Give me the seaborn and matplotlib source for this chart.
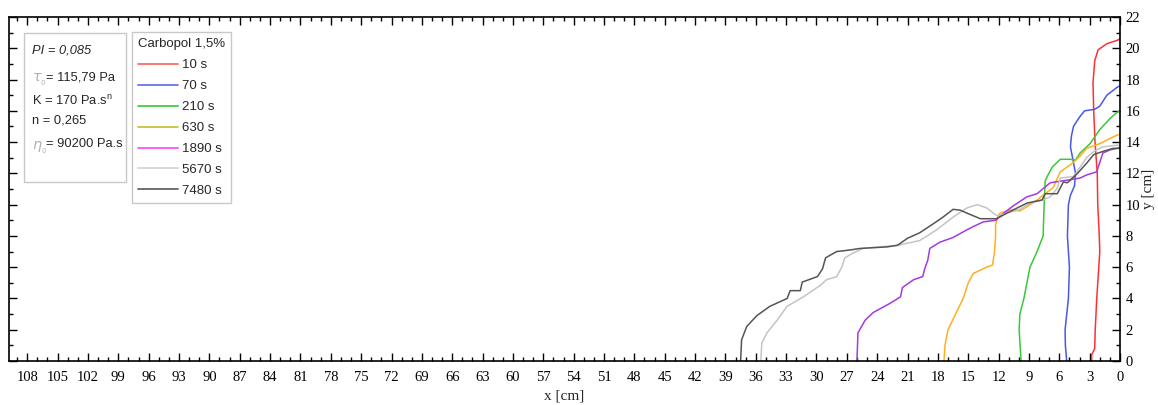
import numpy as np
import pandas as pd
import matplotlib
matplotlib.use("Agg")
import matplotlib.pyplot as plt
from matplotlib.lines import Line2D
from matplotlib.patches import Rectangle
from matplotlib.ticker import MultipleLocator
import seaborn as sns

# ---------------- data (x [cm], y [cm]) ----------------
labels = ["10 s", "70 s", "210 s", "630 s", "1890 s", "5670 s", "7480 s"]

x_10 = [2.8, 2.8, 2.5, 2.45, 2.3, 2.1, 2.0, 2.05, 2.2, 2.25, 2.47, 2.6, 2.67, 2.5, 2.17, 1.28, 0.8, 0.3, 0.0]
y_10 = [0, 0.4, 0.8, 2.0, 4.0, 6.0, 7.0, 8.0, 10.0, 12.0, 14.0, 16.0, 17.8, 19.2, 19.9, 20.3, 20.4, 20.5, 20.6]

x_70 = [5.27, 5.4, 5.43, 5.1, 5.0, 5.2, 5.1, 4.9, 4.5, 4.4, 4.6, 4.9, 4.8, 4.6, 4.0, 3.5, 2.5, 2.0, 1.3, 0.3, 0.0]
y_70 = [0, 1.0, 2.0, 4.0, 6.0, 8.0, 10.0, 10.6, 11.2, 12.0, 12.7, 13.7, 14.4, 15.0, 15.6, 16.0, 16.1, 16.3, 17.0, 17.5, 17.6]

x_210 = [9.78, 9.97, 9.9, 9.5, 8.9, 8.2, 7.6, 7.5, 7.4, 7.2, 6.7, 5.9, 4.9, 4.4, 3.95, 2.96, 2.0, 1.0, 0.3, 0.0]
y_210 = [0, 2.0, 3.0, 4.0, 6.0, 7.0, 8.0, 10.0, 11.5, 11.8, 12.4, 12.9, 12.9, 12.85, 13.3, 13.9, 14.8, 15.5, 15.9, 16.0]

x_630 = [17.4, 17.3, 17.0, 16.3, 15.5, 15.0, 14.5, 13.2, 12.6, 12.4, 12.3, 12.3, 12.05, 11.86, 10.87, 9.88,
         9.2, 8.2, 7.4, 6.6, 5.9, 4.6, 3.95, 3.3, 2.0, 0.3, 0.0]
y_630 = [0, 1.0, 2.0, 2.94, 4.0, 5.0, 5.6, 6.0, 6.14, 7.0, 8.0, 8.7, 9.3, 9.45, 9.66, 9.6,
         9.87, 10.3, 10.7, 11.1, 12.1, 12.7, 13.1, 13.6, 13.9, 14.45, 14.5]

x_1890 = [26.0, 25.9, 25.2, 24.4, 22.7, 21.7, 21.5, 20.4, 19.5, 19.3, 19.0, 18.8, 17.8, 16.5, 15.1, 14.5,
          13.5, 12.3, 11.5, 10.6, 9.2, 8.2, 6.9, 5.9, 4.9, 3.95, 3.3, 2.3, 2.0, 1.7, 1.0, 0.3, 0.0]
y_1890 = [0, 1.8, 2.6, 3.1, 3.7, 4.1, 4.7, 5.2, 5.4, 5.9, 6.45, 7.2, 7.6, 7.9, 8.4, 8.6,
          8.9, 9.0, 9.45, 9.9, 10.5, 10.7, 11.4, 11.5, 11.6, 11.7, 11.9, 12.1, 12.7, 13.3, 13.5, 13.6, 13.65]

x_5670 = [35.5, 35.4, 34.9, 33.9, 32.9, 31.3, 29.6, 29.0, 28.0, 27.5, 27.2, 26.4, 25.4, 22.0, 19.8, 18.1,
          16.5, 15.1, 14.1, 13.2, 12.2, 11.5, 9.9, 8.9, 7.6, 6.9, 6.2, 5.9, 4.6, 3.95, 3.3, 2.6, 1.7, 0.3, 0.0]
y_5670 = [0, 1.15, 1.8, 2.6, 3.5, 4.1, 4.85, 5.2, 5.4, 6.0, 6.6, 6.9, 7.2, 7.4, 7.7, 8.4,
          9.2, 9.8, 10.0, 9.8, 9.3, 9.4, 9.7, 10.1, 10.3, 10.5, 11.05, 11.7, 11.8, 12.4, 13.0, 13.4, 13.7, 13.8, 13.8]

x_7480 = [37.5, 37.4, 36.9, 35.9, 34.6, 32.9, 32.6, 31.6, 31.4, 29.9, 29.4, 29.1, 28.0, 26.7, 25.7, 23.0,
          22.0, 21.0, 19.8, 18.4, 17.5, 16.5, 15.8, 15.1, 13.8, 12.2, 11.2, 9.2, 7.7, 7.4, 6.2, 5.6, 5.2,
          4.2, 3.3, 2.6, 1.7, 0.7, 0.0]
y_7480 = [0, 1.35, 2.2, 2.9, 3.5, 4.0, 4.5, 4.5, 5.05, 5.4, 5.9, 6.6, 7.0, 7.1, 7.2, 7.3,
          7.4, 7.85, 8.2, 8.8, 9.2, 9.7, 9.65, 9.45, 9.1, 9.1, 9.45, 10.1, 10.3, 10.7, 10.7, 11.45, 11.4,
          12.0, 12.65, 13.2, 13.4, 13.6, 13.6]

xs = [x_10, x_70, x_210, x_630, x_1890, x_5670, x_7480]
ys = [y_10, y_70, y_210, y_630, y_1890, y_5670, y_7480]

line_colors = ["#ff3030", "#4858e8", "#38c838", "#ffb020", "#a43ae0", "#c4c4c4", "#555555"]
legend_colors = ["#ff6a6a", "#6a72f0", "#40d040", "#c8c43c", "#ff50ff", "#d4d4d4", "#666666"]

x_ticks = list(range(0, 109, 3))
y_ticks = list(range(0, 23, 2))

# ---------------- build frame ----------------
frames = []
for lab, xv, yv in zip(labels, xs, ys):
    frames.append(pd.DataFrame({"x": xv, "y": yv, "series": lab, "order": np.arange(len(xv))}))
df = pd.concat(frames, ignore_index=True)

sns.set_style("ticks")
plt.rcParams["font.family"] = ["Liberation Serif", "DejaVu Serif"]

fig = plt.figure(figsize=(11.58, 4.05), dpi=100)
ax = fig.add_axes([0.0078, 0.1086, 0.9594, 0.8494])

sns.lineplot(data=df, x="x", y="y", hue="series", hue_order=labels,
             palette=dict(zip(labels, line_colors)), sort=False, estimator=None,
             linewidth=1.1, legend=False, ax=ax)

ax.set_xlim(109.8, 0)
ax.set_ylim(0, 22)
ax.set_xticks(x_ticks)
ax.set_yticks(y_ticks)
ax.xaxis.set_minor_locator(MultipleLocator(1))
ax.yaxis.set_minor_locator(MultipleLocator(1))
ax.tick_params(which="both", direction="in", top=True, bottom=True, left=True, right=True,
               labelleft=False, labelright=True, colors="black", width=1.0)
ax.tick_params(which="major", length=6, labelsize=10.5)
ax.tick_params(which="minor", length=3)
ax.tick_params(axis="x", which="major", pad=7)
ax.tick_params(axis="y", which="major", pad=4)
for s in ax.spines.values():
    s.set_color("black")
    s.set_linewidth(1.2)

ax.set_xlabel("x [cm]", fontsize=11, labelpad=4)
ax.yaxis.set_label_position("right")
ax.set_ylabel("y [cm]", fontsize=11, labelpad=1)

# ---------------- parameter box ----------------
sans = ["Liberation Sans", "DejaVu Sans"]
ax.add_patch(Rectangle((0.0135, 0.52), 0.0918, 0.4335, transform=ax.transAxes,
                       facecolor="white", edgecolor="#c8c8c8", linewidth=1.0, zorder=5))
fs = 9.3
tx = 0.0205
ax.text(tx, 0.903, "PI = 0,085", transform=ax.transAxes, fontsize=fs, family=sans,
        style="italic", va="center", zorder=6)
ax.text(tx, 0.818, r"$\tau_{_0}$", transform=ax.transAxes, fontsize=fs + 1, family=sans,
        color="#b0b0b0", va="center", zorder=6)
ax.text(tx + 0.0125, 0.825, "= 115,79 Pa", transform=ax.transAxes, fontsize=fs, family=sans,
        va="center", zorder=6)
ax.text(tx, 0.755, r"K = 170 Pa.s$^\mathregular{n}$", transform=ax.transAxes, fontsize=fs,
        family=sans, va="center", zorder=6)
ax.text(tx, 0.70, "n = 0,265", transform=ax.transAxes, fontsize=fs, family=sans,
        va="center", zorder=6)
ax.text(tx, 0.62, r"$\eta_{_0}$", transform=ax.transAxes, fontsize=fs + 1, family=sans,
        color="#b0b0b0", va="center", zorder=6)
ax.text(tx + 0.0125, 0.63, "= 90200 Pa.s", transform=ax.transAxes, fontsize=fs, family=sans,
        va="center", zorder=6)

# ---------------- legend ----------------
handles = [Line2D([], [], color=c, linewidth=1.3) for c in legend_colors]
leg = ax.legend(handles, labels, title="Carbopol 1,5%", loc="upper left",
                bbox_to_anchor=(0.111, 0.955), frameon=True, fancybox=False,
                edgecolor="#c8c8c8", framealpha=1.0, prop={"family": sans, "size": 9.5},
                title_fontproperties={"family": sans, "size": 9.5},
                handlelength=3.0, handletextpad=0.35, labelspacing=0.66,
                borderpad=0.45, borderaxespad=0.0)
leg._legend_box.align = "left"
leg.get_frame().set_linewidth(1.0)
leg.set_zorder(6)

fig.savefig("out.png", dpi=100)
